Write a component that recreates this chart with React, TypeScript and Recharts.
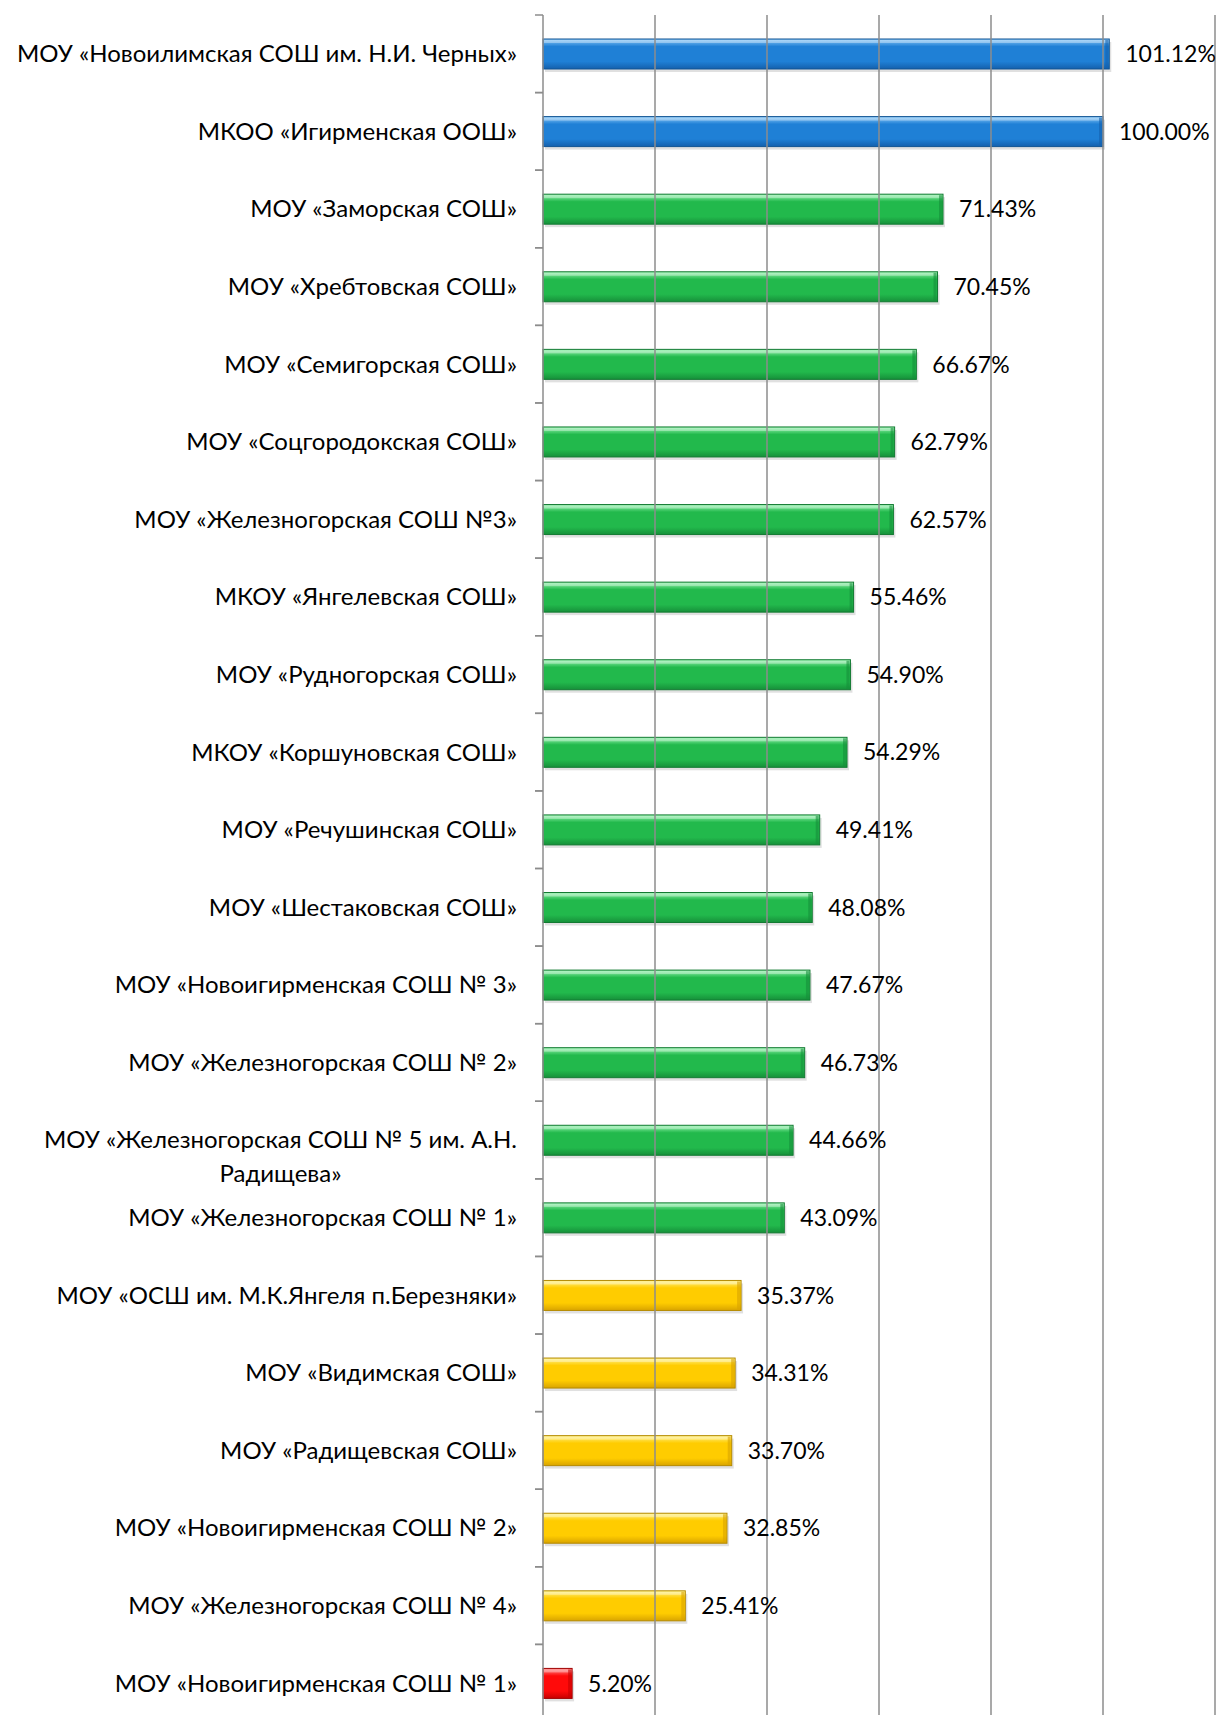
import { BarChart, Bar, XAxis, YAxis, ReferenceLine, LabelList, Cell } from "recharts"

// Schools, top to bottom as in the picture
const schools = [
  "МОУ «Новоилимская СОШ им. Н.И. Черных»",
  "МКОО «Игирменская ООШ»",
  "МОУ «Заморская СОШ»",
  "МОУ «Хребтовская СОШ»",
  "МОУ «Семигорская СОШ»",
  "МОУ «Соцгородокская СОШ»",
  "МОУ «Железногорская СОШ №3»",
  "МКОУ «Янгелевская СОШ»",
  "МОУ «Рудногорская СОШ»",
  "МКОУ «Коршуновская СОШ»",
  "МОУ «Речушинская СОШ»",
  "МОУ «Шестаковская СОШ»",
  "МОУ «Новоигирменская СОШ № 3»",
  "МОУ «Железногорская СОШ № 2»",
  "МОУ «Железногорская СОШ № 5 им. А.Н.\nРадищева»",
  "МОУ «Железногорская СОШ № 1»",
  "МОУ «ОСШ им. М.К.Янгеля п.Березняки»",
  "МОУ «Видимская СОШ»",
  "МОУ «Радищевская СОШ»",
  "МОУ «Новоигирменская СОШ № 2»",
  "МОУ «Железногорская СОШ № 4»",
  "МОУ «Новоигирменская СОШ № 1»",
]

// percent values
const percents = [
  101.12, 100.0, 71.43, 70.45, 66.67, 62.79, 62.57, 55.46, 54.9, 54.29, 49.41,
  48.08, 47.67, 46.73, 44.66, 43.09, 35.37, 34.31, 33.7, 32.85, 25.41, 5.2,
]

// colour group for each bar
const levels = [
  "blue", "blue",
  "green", "green", "green", "green", "green", "green", "green", "green",
  "green", "green", "green", "green", "green", "green",
  "yellow", "yellow", "yellow", "yellow", "yellow",
  "red",
]

const xTicks = [0, 20, 40, 60, 80, 100, 120]

const palette: Record<string, { top: string; mid: string; bottom: string; edge: string }> = {
  blue: { top: "#8ccaf8", mid: "#1f80d6", bottom: "#1460ad", edge: "#125593" },
  green: { top: "#9af5b2", mid: "#22b94c", bottom: "#16903a", edge: "#137a32" },
  yellow: { top: "#fff38a", mid: "#ffcc00", bottom: "#d9a400", edge: "#b58a00" },
  red: { top: "#ff8c8c", mid: "#ff0a0a", bottom: "#c80000", edge: "#a00000" },
}

const data = schools.map((name, i) => ({ name, value: percents[i], level: levels[i] }))

const W = 1219
const H = 1730
const M = { top: 15, right: 4, bottom: 8, left: 0 }
const BAND = (H - M.top - M.bottom) / schools.length
const FONT = "Lato, 'Open Sans', sans-serif"
const FS = 24
const GRID = "#8c8c8c"

let ctx: CanvasRenderingContext2D | null = null
function textWidth(s: string) {
  if (!ctx) ctx = document.createElement("canvas").getContext("2d")
  if (!ctx) return s.length * FS * 0.5
  ctx.font = `${FS}px Lato`
  return ctx.measureText(s).width
}

function SchoolTick(props: any) {
  const { x, y, payload } = props
  const lines = String(payload.value).split("\n")
  const axisX = x + 26
  const marks = (
    <g>
      <line x1={axisX - 8} x2={axisX} y1={y - BAND / 2} y2={y - BAND / 2} stroke={GRID} strokeWidth={1.5} />
      <line x1={axisX - 8} x2={axisX} y1={y + BAND / 2} y2={y + BAND / 2} stroke={GRID} strokeWidth={1.5} />
    </g>
  )
  if (lines.length === 1) {
    return (
      <g>
        {marks}
        <text x={x} y={y} dy="0.35em" textAnchor="end" fontFamily={FONT} fontSize={FS} fill="#000">
          {lines[0]}
        </text>
      </g>
    )
  }
  const maxW = Math.max(...lines.map(textWidth))
  const cx = x - maxW / 2
  return (
    <g>
      {marks}
      {lines.map((l, i) => (
        <text key={i} x={cx} y={y + i * 34} dy="0.35em" textAnchor="middle" fontFamily={FONT} fontSize={FS} fill="#000">
          {l}
        </text>
      ))}
    </g>
  )
}

function BevelBar(props: any) {
  const { x, y, width, height, payload } = props
  if (!width || width <= 0) return null
  const c = palette[payload.level]
  return (
    <g>
      <rect x={x + 2} y={y + 3} width={width} height={height} fill="#000" opacity={0.12} />
      <rect x={x} y={y} width={width} height={height} fill={`url(#grad-${payload.level})`} stroke={c.edge} strokeWidth={1} />
      <rect x={x + 1} y={y + 1} width={width - 2} height={3} fill="#fff" opacity={0.35} />
      <rect x={x + width - 4} y={y + 1} width={3} height={height - 2} fill={c.bottom} opacity={0.6} />
    </g>
  )
}

export default function App() {
  return (
    <div style={{ position: "absolute", left: 0, top: 0, width: W, height: 1715, overflow: "hidden", background: "#fff" }}>
      <BarChart width={W} height={H} data={data} layout="vertical" margin={M} barCategoryGap={0}>
        <defs>
          {Object.entries(palette).map(([k, c]) => (
            <linearGradient key={k} id={`grad-${k}`} x1="0" y1="0" x2="0" y2="1">
              <stop offset="0%" stopColor={c.top} />
              <stop offset="25%" stopColor={c.mid} />
              <stop offset="75%" stopColor={c.mid} />
              <stop offset="100%" stopColor={c.bottom} />
            </linearGradient>
          ))}
        </defs>
        <XAxis type="number" domain={[0, 120]} ticks={xTicks} tick={false} axisLine={false} tickLine={false} height={0} />
        <YAxis
          type="category"
          dataKey="name"
          width={543}
          interval={0}
          tickLine={false}
          tickSize={0}
          tickMargin={26}
          axisLine={{ stroke: GRID, strokeWidth: 1.5 }}
          tick={<SchoolTick />}
        />
        {xTicks.slice(1).map((t) => (
          <ReferenceLine key={t} x={t} stroke={GRID} strokeWidth={1.5} />
        ))}
        <Bar dataKey="value" barSize={30} isAnimationActive={false} shape={<BevelBar />}>
          {data.map((d, i) => (
            <Cell key={i} fill={palette[d.level].mid} />
          ))}
          <LabelList
            dataKey="value"
            position="right"
            offset={16}
            fontFamily={FONT}
            fontSize={23}
            fill="#000"
            formatter={(v: any) => `${Number(v).toFixed(2)}%`}
          />
        </Bar>
      </BarChart>
    </div>
  )
}
